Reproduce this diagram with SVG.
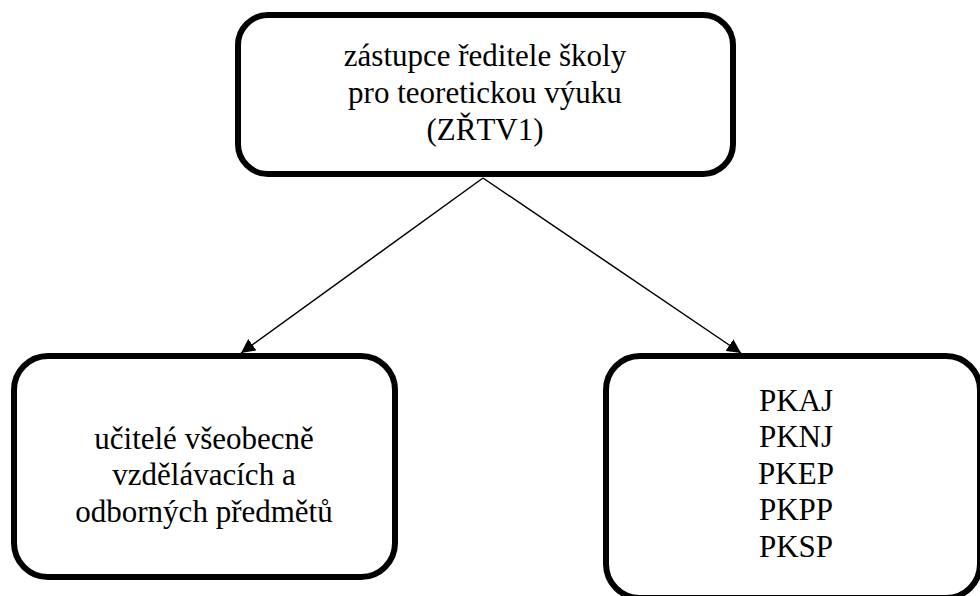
<svg xmlns="http://www.w3.org/2000/svg" width="980" height="596" viewBox="0 0 980 596">
<style>
.box{fill:#fff;stroke:#000;stroke-width:6}
.t{font-size:31px;fill:#000;text-anchor:middle}
.c{stroke:#000;stroke-width:1.5;fill:none;marker-end:url(#ah)}
</style>
<defs>
<marker id="ah" markerUnits="userSpaceOnUse" markerWidth="14" markerHeight="14" viewBox="0 0 12 12" refX="12" refY="6" orient="auto">
<path d="M0,0 L12,6 L0,12 z" fill="#000"/>
</marker>
</defs>
<rect width="980" height="596" fill="#fff"/>
<g id="connectors">
<line class="c" x1="483" y1="178" x2="241" y2="353"/>
<line class="c" x1="483" y1="178" x2="741" y2="353"/>
</g>
<g id="top" font-family="Liberation Serif, serif">
<rect class="box" x="238" y="15" width="495" height="159" rx="30" ry="30"/>
<text class="t" x="485" y="66">zástupce ředitele školy</text>
<text class="t" x="485" y="103">pro teoretickou výuku</text>
<text class="t" x="485" y="140">(ZŘTV1)</text>
</g>
<g id="left" font-family="Liberation Serif">
<rect class="box" x="14" y="356" width="381" height="221" rx="34" ry="34"/>
<text class="t" x="204" y="449">učitelé všeobecně</text>
<text class="t" x="204" y="485">vzdělávacích a</text>
<text class="t" x="204" y="522">odborných předmětů</text>
</g>
<g id="right" font-family="Liberation Serif">
<rect class="box" x="606" y="356" width="374" height="242" rx="34" ry="34"/>
<text class="t" x="796" y="411">PKAJ</text>
<text class="t" x="796" y="447">PKNJ</text>
<text class="t" x="796" y="484">PKEP</text>
<text class="t" x="796" y="520">PKPP</text>
<text class="t" x="796" y="557">PKSP</text>
</g>
</svg>
